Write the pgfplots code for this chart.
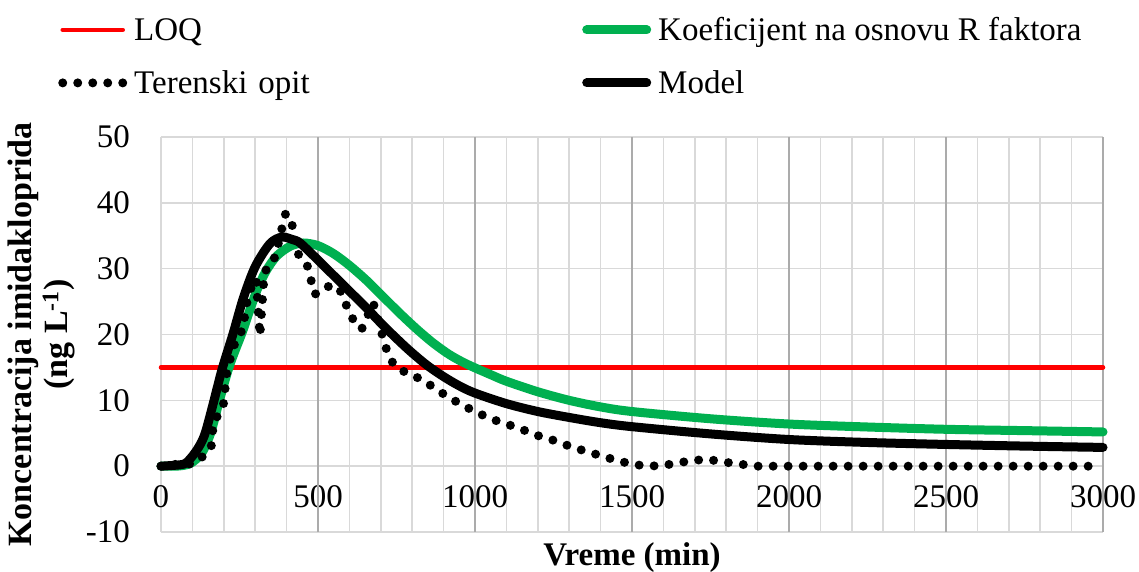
\documentclass[border=0pt]{standalone}
\usepackage{fontspec}
\setmainfont{Liberation Serif}
\usepackage{pgfplots}
\pgfplotsset{compat=1.18}
\definecolor{gmin}{HTML}{D9D9D9}
\definecolor{gmaj}{HTML}{ABABAB}
\definecolor{kgreen}{HTML}{00B050}
\begin{document}
\fontsize{33}{40}\selectfont
\begin{tikzpicture}
\begin{axis}[
 at={(0,0)}, anchor=south west,
 scale only axis, width=942pt, height=395pt,
 xmin=0, xmax=3000, ymin=-10, ymax=50,
 xtick={0,500,...,3000}, minor xtick={100,200,...,2900},
 ytick={-10,0,...,50},
 xticklabels={0,500,1000,1500,2000,2500,3000},
 yticklabels={-10,0,10,20,30,40,50},
 extra x ticks={500,1000,...,3000},
 extra x tick labels={},
 extra x tick style={grid=major, major grid style={gmaj, line width=1.6pt}},
 grid=both,
 major grid style={gmin, line width=1.6pt},
 minor grid style={gmin, line width=1.6pt},
 major tick length=0pt, minor tick length=0pt,
 axis line style={draw=none},
 tick label style={font=\fontsize{33}{40}\selectfont},
 xticklabel style={anchor=center, yshift=35pt},
 yticklabel style={anchor=east, inner sep=0pt, xshift=-31pt},
 xlabel={Vreme (min)},
 xlabel style={font=\bfseries\fontsize{33}{40}\selectfont, at={(axis description cs:0.5,0)}, anchor=base, yshift=-33pt, inner sep=0pt},
 ylabel={Koncentracija imidakloprida\\(ng L\textsuperscript{-1})},
 ylabel style={font=\bfseries\fontsize{34}{36}\selectfont, align=center, at={(axis description cs:-0.0913,0.5)}, anchor=south, inner sep=0pt},
 legend columns=2,
 legend cell align=left,
 legend style={at={(axis description cs:-0.1093,1.3046)}, anchor=north west, draw=none, fill=none, inner sep=0pt, row sep=21pt,
   nodes={inner sep=0pt, text height=24pt, text depth=8pt},
   /tikz/every odd column/.append style={column sep=7pt},
   /tikz/column 2/.append style={text width=448pt}},
 legend image code/.code={\draw[#1] (0pt,3pt) -- (60pt,3pt);},
 clip=false,
]
\addplot[red, line width=4.5pt, line cap=round] coordinates {(0,15) (3000,15)};
\addlegendentry{LOQ}
\addplot[kgreen, line width=9pt, line cap=round, smooth, tension=0.5] coordinates {
(0,0) (50,0) (80,0.2) (100,0.6) (130,2) (158,5) (185,9.8) (215,14.8) (238,17.8) (260,20.5) (285,24) (307,26.9) (334,29.6) (368,31.9) (411,33.4) (453,33.9) (500,33.5) (549,32.3) (600,30.5) (655,28.2) (708,25.7) (761,23.2) (815,20.8) (867,18.7) (920,16.9) (974,15.5) (1050,13.9) (1100,12.9) (1200,11.3) (1300,10.0) (1400,9.0) (1500,8.3) (1750,7.2) (2000,6.4) (2250,5.95) (2500,5.6) (2750,5.4) (3000,5.2)};
\addlegendentry{Koeficijent na osnovu R faktora}
\addplot[black, line width=9pt, line cap=round, dash pattern=on 0pt off 15pt] coordinates {
(0,0) (40,0) (50,0.5) (100,0.3) (148,2.0) (160,3) (165,5.5) (170,7) (190,8.2) (201,9.8) (205,12.3) (211,14.8) (225,17.0) (240,19.5) (262,20.8) (267,23.0) (276,25.5) (292,27.8) (303,28.5) (315,19.8) (327,28) (331,29.6) (358,31.1) (371,33.3) (384,35.9) (397,38.4) (415,37.2) (424,35.2) (432,32.5) (450,31.5) (464,30.8) (477,28.4) (490,26.1) (528,27.3) (566,27.2) (586,24.9) (607,22.6) (639,20.8) (676,24.8) (690,22.5) (703,20.2) (719,17.6) (740,15.5) (782,14.1) (830,13.2) (873,11.8) (918,10.4) (963,9.2) (1008,8.1) (1056,7.1) (1107,6.3) (1154,5.5) (1203,4.6) (1252,3.9) (1303,3.0) (1350,2.3) (1400,1.6) (1449,0.9) (1500,0.3) (1549,0) (1597,0.1) (1648,0.5) (1695,0.9) (1745,1.0) (1796,0.6) (1846,0.3) (1895,0) (3000,0)};
\addlegendentry{Terenski opit}
\addplot[black, line width=9pt, line cap=round, smooth, tension=0.5] coordinates {
(0,0) (60,0.2) (80,0.5) (103,1.7) (125,3.3) (142,5.2) (169,10) (195,14.8) (230,20.2) (262,25.5) (300,30.3) (347,33.8) (385,34.8) (420,34.4) (443,33.9) (496,31.5) (549,29.0) (602,26.5) (655,24.0) (707,21.4) (761,18.9) (800,17.2) (848,15.3) (900,13.6) (950,12.2) (1000,11.1) (1100,9.5) (1200,8.3) (1300,7.4) (1400,6.6) (1500,6.0) (1750,4.9) (2000,4.05) (2250,3.6) (2500,3.3) (2750,3.05) (3000,2.85)};
\addlegendentry{Model}
\end{axis}
\pgfresetboundingbox
\path (-161pt,-39pt) rectangle (978pt,532pt);
\end{tikzpicture}
\end{document}
